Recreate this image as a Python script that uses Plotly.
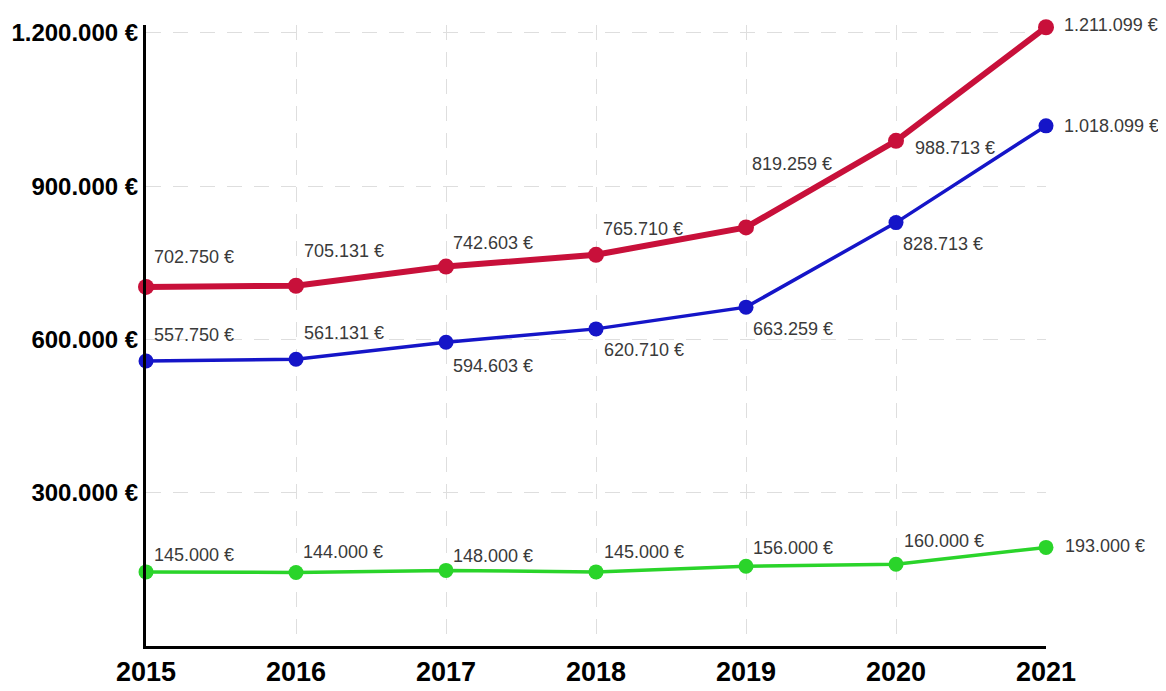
import plotly.graph_objects as go

years = [2015, 2016, 2017, 2018, 2019, 2020, 2021]
total = [702750, 705131, 742603, 765710, 819259, 988713, 1211099]
blue_series = [557750, 561131, 594603, 620710, 663259, 828713, 1018099]
green_series = [145000, 144000, 148000, 145000, 156000, 160000, 193000]
y_ticks = [300000, 600000, 900000, 1200000]
y_tick_labels = ["300.000 €", "600.000 €", "900.000 €", "1.200.000 €"]


def fmt(v):
    return f"{v:,}".replace(",", ".") + " €"


# label offsets (style): (xshift, yshift) per point
red_off = [(6, 30), (6, 35), (5, 24), (5, 26), (4, 63), (17, -7), (16, 2)]
blue_off = [(6, 26), (6, 26), (5, -24), (6, -21), (5, -22), (5, -21), (16, 0)]
green_off = [(6, 17), (5, 20), (5, 14), (6, 20), (5, 18), (6, 23), (17, 1)]

RED = "#c8103a"
BLUE = "#1515c8"
GREEN = "#2ad42a"
FONT = "Liberation Sans, Arial, sans-serif"

fig = go.Figure()
series = [
    (green_series, GREEN, 3.5, 15, green_off),
    (blue_series, BLUE, 3.5, 15, blue_off),
    (total, RED, 6, 16, red_off),
]
annotations = []
for vals, col, lw, ms, offs in series:
    fig.add_trace(go.Scatter(
        x=years, y=vals, mode="lines+markers",
        line=dict(color=col, width=lw),
        marker=dict(color=col, size=ms),
        cliponaxis=False, showlegend=False, hoverinfo="x+y",
    ))
    for x, v, (dx, dy) in zip(years, vals, offs):
        annotations.append(dict(
            x=x, y=v, xref="x", yref="y", text=fmt(v), showarrow=False,
            xanchor="left", yanchor="middle", xshift=dx, yshift=dy,
            font=dict(family=FONT, size=18, color="#3a3a3a"),
        ))

fig.update_layout(
    width=1158, height=683,
    margin=dict(l=138, r=120, t=17, b=45),
    paper_bgcolor="white", plot_bgcolor="white",
    annotations=annotations,
    xaxis=dict(
        range=[2015, 2021], tickvals=years, ticktext=[str(y) for y in years],
        showgrid=True, gridcolor="#dedede", gridwidth=1, griddash="15px,12px",
        showline=True, linecolor="black", linewidth=3,
        ticks="", zeroline=False, automargin=False,
        tickfont=dict(family=FONT, size=27, color="black", weight="bold"),
    ),
    yaxis=dict(
        range=[0, 1215500], tickvals=y_ticks, ticktext=y_tick_labels,
        showgrid=True, gridcolor="#dedede", gridwidth=1, griddash="15px,12px",
        showline=True, linecolor="black", linewidth=3,
        ticks="", zeroline=False, automargin=False,
        tickfont=dict(family=FONT, size=24, color="black", weight="bold"),
    ),
)

fig.write_html("out.html")
